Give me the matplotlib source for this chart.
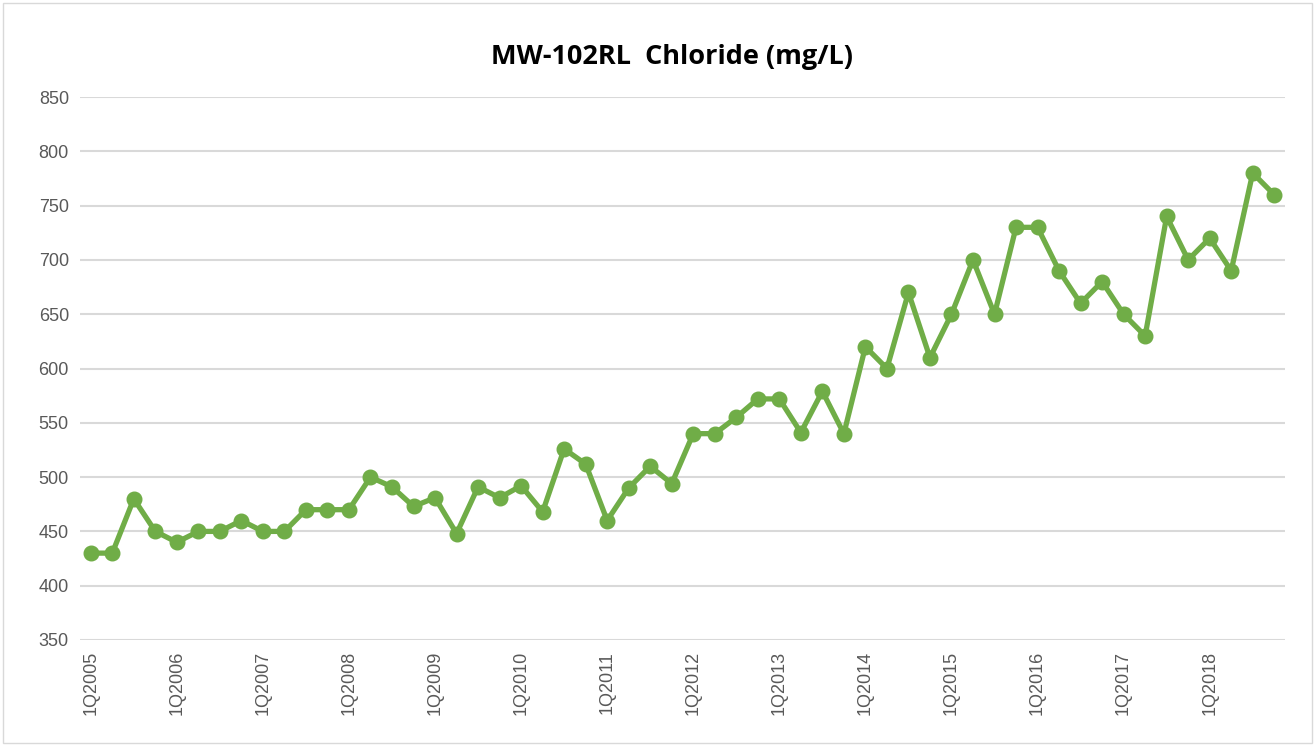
import matplotlib
matplotlib.use('Agg')
import matplotlib.pyplot as plt
import numpy as np

# quarterly chloride results, 1Q2005 .. 4Q2018
years = list(range(2005, 2019))
quarters = [f"{q}Q{y}" for y in years for q in range(1, 5)]
chloride = [
    430, 430, 480, 450,
    440, 450, 450, 460,
    450, 450, 470, 470,
    470, 500, 491, 473,
    481, 448, 491, 481,
    492, 468, 526, 512,
    460, 490, 510, 494,
    540, 540, 555, 572,
    572, 541, 579, 540,
    620, 600, 670, 610,
    650, 700, 650, 730,
    730, 690, 660, 680,
    650, 630, 740, 700,
    720, 690, 780, 760,
]
yticks = [350, 400, 450, 500, 550, 600, 650, 700, 750, 800, 850]

fig = plt.figure(figsize=(13.16, 7.46), dpi=100)
ax = fig.add_axes([80 / 1316, 106 / 746, 1205 / 1316, 543 / 746])

x = np.arange(len(quarters))
ax.plot(x, chloride, color='#70AD47', lw=3.8, marker='o', ms=10.5,
        solid_joinstyle='round', zorder=3)

ax.set_xlim(-0.5, len(quarters) - 0.5)
ax.set_ylim(350, 850)
ax.set_yticks(yticks)
ax.set_yticklabels([str(v) for v in yticks], fontsize=13, color='#595959',
                   family='Liberation Sans')
tick_pos = x[::4]
ax.set_xticks(tick_pos)
ax.set_xticklabels(quarters[::4], rotation=90, fontsize=13, color='#595959',
                   family='Liberation Sans')
ax.tick_params(length=0, pad=8)
ax.grid(axis='y', color='#D9D9D9', lw=1.5, zorder=0)
for s in ax.spines.values():
    s.set_visible(False)

fig.text(672 / 1316, 1 - 57 / 746, 'MW-102RL  Chloride (mg/L)', ha='center',
         va='center', fontsize=19.5, fontweight='bold', family='Open Sans')

# light chart border
fig.patches.append(plt.Rectangle((3 / 1316, 3 / 746), 1309 / 1316, 740 / 746,
                                 transform=fig.transFigure, fill=False,
                                 edgecolor='#D9D9D9', lw=1))

fig.savefig('out.png', dpi=100)
